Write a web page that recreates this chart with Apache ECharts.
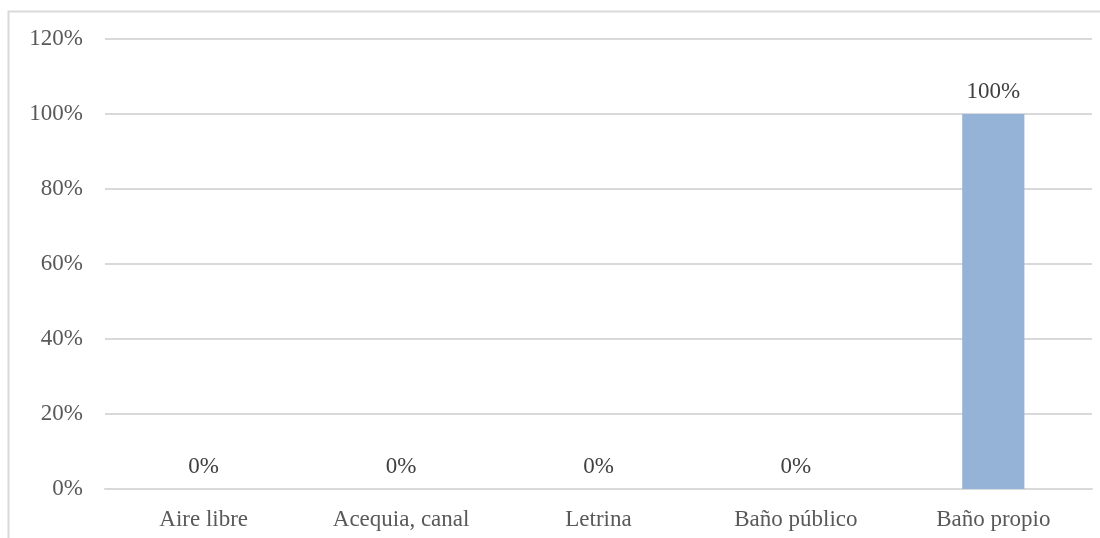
<!DOCTYPE html>
<html>
<head>
<meta charset="utf-8">
<script src="https://cdn.jsdelivr.net/npm/echarts@6/dist/echarts.min.js"></script>
<style>
html,body{margin:0;padding:0;background:#fff;}
#c{width:1100px;height:538px;}
</style>
</head>
<body>
<div id="c"></div>
<script>
const categories = ['Aire libre', 'Acequia, canal', 'Letrina', 'Baño público', 'Baño propio'];
const values = [0, 0, 0, 0, 100];
const yTicks = [0, 20, 40, 60, 80, 100, 120];

const chart = echarts.init(document.getElementById('c'), null, {renderer: 'canvas'});
const font = '"Liberation Serif", "Times New Roman", serif';
chart.setOption({
  animation: false,
  backgroundColor: '#fff',
  textStyle: {fontFamily: font},
  graphic: [{
    type: 'rect',
    shape: {x: 8.5, y: 11.5, width: 1200, height: 700},
    style: {fill: 'none', stroke: '#d9d9d9', lineWidth: 2},
    silent: true
  }],
  grid: {left: 105, right: 8, top: 39, bottom: 49, containLabel: false},
  xAxis: {
    type: 'category',
    data: categories,
    axisLine: {show: true, lineStyle: {color: '#d9d9d9', width: 2}},
    axisTick: {show: false},
    axisLabel: {color: '#595959', fontSize: 23, fontFamily: font, margin: 19}
  },
  yAxis: {
    type: 'value',
    min: yTicks[0],
    max: yTicks[yTicks.length - 1],
    interval: 20,
    axisLine: {show: false},
    axisTick: {show: false},
    splitLine: {lineStyle: {color: '#d9d9d9', width: 2}},
    axisLabel: {color: '#595959', fontSize: 23, fontFamily: font, margin: 22,
      formatter: v => v + '%'}
  },
  series: [{
    type: 'bar',
    data: values,
    barWidth: '31.5%',
    itemStyle: {color: '#95b3d7'},
    label: {
      show: true, position: 'top', distance: 11,
      color: '#404040', fontSize: 23, fontFamily: font,
      formatter: p => p.value + '%'
    }
  }]
});
</script>
</body>
</html>
